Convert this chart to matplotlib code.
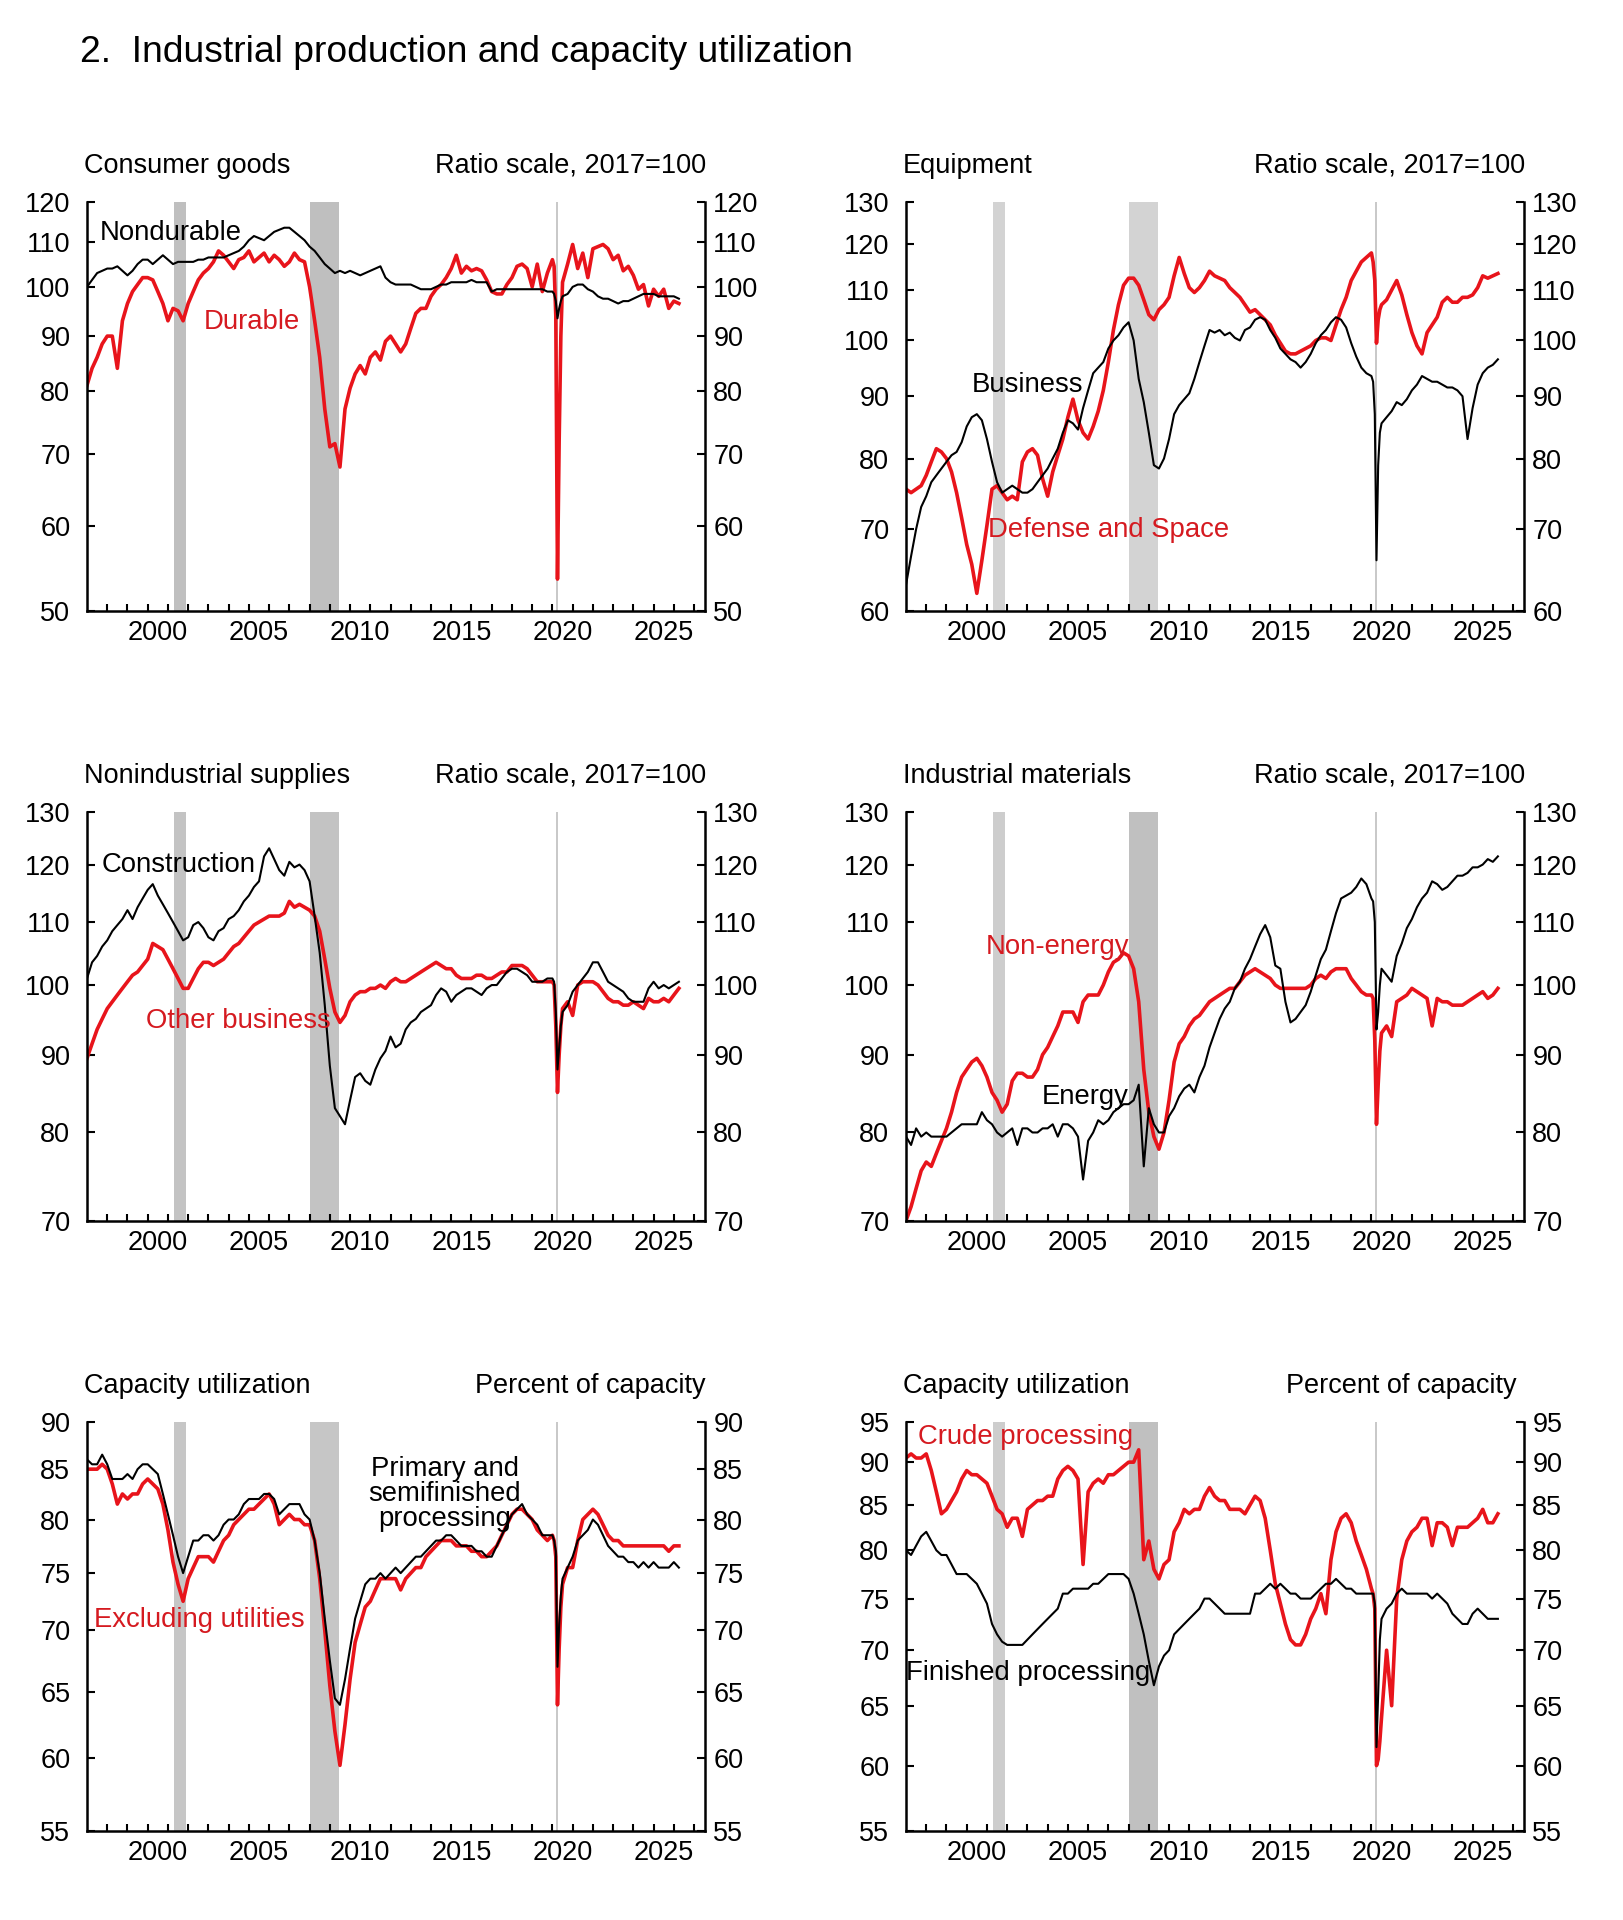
import matplotlib
matplotlib.use('Agg')
import matplotlib.pyplot as plt
from matplotlib.ticker import FixedLocator, NullLocator, FixedFormatter, NullFormatter

plt.rcParams['font.family'] = ['Liberation Sans', 'DejaVu Sans']

# ---------------- data ----------------
# quarterly 1997-2019, monthly Jan-Jul 2020, quarterly 2020Q4-2026Q2
dates = ([1997 + 0.25 * i for i in range(92)]
         + [2020 + m / 12 for m in range(7)]
         + [2020.75 + 0.25 * i for i in range(23)])

nondurable = [100, 101.5, 103, 103.5, 104, 104, 104.5, 103.5, 102.5, 103.5, 105, 106,
              106, 105, 106, 107, 106, 105, 105.5, 105.5, 105.5, 105.5, 106, 106,
              106.5, 106.5, 106.5, 106.5, 107, 107.5, 108, 109, 110.5, 111.5, 111, 110.5,
              111.5, 112.5, 113, 113.5, 113.5, 112.5, 111.5, 110.5, 109, 108, 106.5, 105,
              104, 103, 103.5, 103, 103.5, 103, 102.5, 103, 103.5, 104, 104.5, 102,
              101, 100.5, 100.5, 100.5, 100.5, 100, 99.5, 99.5, 99.5, 100, 100.5, 100.5,
              101, 101, 101, 101, 101.5, 101, 101, 101, 99, 99.5, 99.5, 99.5,
              99.5, 99.5, 99.5, 99.5, 99.5, 99.5, 99.5, 99,
              99, 98.5, 97, 93.5, 95.5, 97, 98, 98.5,
              100, 100.5, 100.5, 99.5, 99, 98, 97.5, 97.5, 97, 96.5, 97, 97,
              97.5, 98, 98.5, 98.5, 98.5, 98, 98, 98, 98, 97.5]
durable = [81, 84, 86, 88.5, 90, 90, 84, 93, 96.5, 99, 100.5, 102,
           102, 101.5, 99, 96.5, 93, 95.5, 95, 93, 96.5, 99, 101.5, 103,
           104, 105.5, 108, 107, 105.5, 104, 106, 106.5, 108, 105.5, 106.5, 107.5,
           105.5, 107, 106, 104.5, 105.5, 107.5, 106, 105.5, 100, 93, 86, 77,
           71, 71.5, 68, 77, 80.5, 83, 84.5, 83, 86, 87, 85.5, 89,
           90, 88.5, 87, 88.5, 91.5, 94.5, 95.5, 95.5, 98, 99.5, 100.5, 102,
           104, 107, 103, 104.5, 103.5, 104, 103.5, 101.5, 99, 98.5, 98.5, 100.5,
           102, 104.5, 105, 104, 100, 105, 99, 103,
           106, 104.5, 94, 53.5, 72, 90, 101, 105,
           109.5, 104, 107.5, 102, 108.5, 109, 109.5, 108.5, 106, 107, 103.5, 104.5,
           102.5, 99.5, 100.5, 96, 99.5, 98, 99.5, 95.5, 97, 96.5]

business = [63, 66.5, 70, 73, 74.5, 76.5, 77.5, 78.5, 79.5, 80.5, 81, 82.5,
            85, 86.5, 87, 86, 83, 79.5, 76.5, 75, 75.5, 76, 75.5, 75,
            75, 75.5, 76.5, 77.5, 78.5, 80, 81.5, 84, 86, 85.5, 84.5, 88,
            91, 94, 95, 96, 98.5, 100, 101, 102.5, 103.5, 100, 93, 89,
            84, 79, 78.5, 80, 83, 87, 88.5, 89.5, 90.5, 93, 96, 99,
            102, 101.5, 102, 101, 101.5, 100.5, 100, 102, 102.5, 104, 104.5, 104,
            102, 100.5, 98.5, 97.5, 96.5, 96, 95, 96, 97.5, 99.5, 101, 102,
            103.5, 104.5, 104, 102.5, 99.5, 97, 95, 94,
            93.5, 92.5, 87, 66, 79, 84, 85.5, 86.5,
            87.5, 89, 88.5, 89.5, 91, 92, 93.5, 93, 92.5, 92.5, 92, 91.5,
            91.5, 91, 90, 83, 88, 92, 94, 95, 95.5, 96.5]
defense = [75.5, 75, 75.5, 76, 77.5, 79.5, 81.5, 81, 80, 78, 75, 71.5,
           68, 65.5, 62, 66, 70.5, 75.5, 76, 75, 74, 74.5, 74, 79.5,
           81, 81.5, 80.5, 77, 74.5, 78, 80.5, 83, 86.5, 89.5, 86, 84,
           83, 85, 87.5, 91, 96, 102, 107, 111, 112.5, 112.5, 111, 108,
           105, 104, 106, 107, 108.5, 113, 117, 113.5, 110.5, 109.5, 110.5, 112,
           114, 113, 112.5, 112, 110.5, 109.5, 108.5, 107, 105.5, 106, 105, 104,
           103, 101, 99.5, 98, 97.5, 97.5, 98, 98.5, 99, 100, 100.5, 100.5,
           100, 103, 106, 108.5, 112, 114, 116, 117,
           118, 116, 112, 99.5, 104, 106, 107, 108,
           110, 112, 109, 105, 101.5, 99, 97.5, 101.5, 103, 104.5, 107.5, 108.5,
           107.5, 107.5, 108.5, 108.5, 109, 110.5, 113, 112.5, 113, 113.5]

construction = [101, 103.5, 104.5, 106, 107, 108.5, 109.5, 110.5, 112, 110.5, 112.5, 114,
                115.5, 116.5, 114.5, 113, 111.5, 110, 108.5, 107, 107.5, 109.5, 110, 109,
                107.5, 107, 108.5, 109, 110.5, 111, 112, 113.5, 114.5, 116, 117, 121.5,
                123, 121, 119, 118, 120.5, 119.5, 120, 119, 117, 111, 105, 97,
                88.5, 83, 82, 81, 84, 87, 87.5, 86.5, 86, 88, 89.5, 90.5,
                92.5, 91, 91.5, 93.5, 94.5, 95, 96, 96.5, 97, 98.5, 99.5, 99,
                97.5, 98.5, 99, 99.5, 99.5, 99, 98.5, 99.5, 100, 100, 101, 102,
                102.5, 102.5, 102, 101.5, 100.5, 100.5, 100.5, 101,
                101, 100.5, 96, 88, 91, 94, 96, 97,
                99, 100, 101, 102, 103.5, 103.5, 102, 100.5, 100, 99.5, 99, 98,
                97.5, 97.5, 97.5, 99.5, 100.5, 99.5, 100, 99.5, 100, 100.5]
other_business = [89.5, 91.5, 93.5, 95, 96.5, 97.5, 98.5, 99.5, 100.5, 101.5, 102, 103,
                  104, 106.5, 106, 105.5, 104, 102.5, 101, 99.5, 99.5, 101, 102.5, 103.5,
                  103.5, 103, 103.5, 104, 105, 106, 106.5, 107.5, 108.5, 109.5, 110, 110.5,
                  111, 111, 111, 111.5, 113.5, 112.5, 113, 112.5, 112, 111, 108.5, 104,
                  99.5, 96, 94.5, 95.5, 97.5, 98.5, 99, 99, 99.5, 99.5, 100, 99.5,
                  100.5, 101, 100.5, 100.5, 101, 101.5, 102, 102.5, 103, 103.5, 103, 102.5,
                  102.5, 101.5, 101, 101, 101, 101.5, 101.5, 101, 101, 101.5, 102, 102,
                  103, 103, 103, 102.5, 101.5, 100.5, 100.5, 100.5,
                  100.5, 100, 94, 85, 90, 94, 96.5, 97.5,
                  95.5, 100, 100.5, 100.5, 100.5, 100, 99, 98, 97.5, 97.5, 97, 97,
                  97.5, 97, 96.5, 98, 97.5, 97.5, 98, 97.5, 98.5, 99.5]

non_energy = [70, 71.5, 73.5, 75.5, 76.5, 76, 77.5, 79, 80.5, 82.5, 85, 87,
              88, 89, 89.5, 88.5, 87, 85, 84, 82.5, 83.5, 86.5, 87.5, 87.5,
              87, 87, 88, 90, 91, 92.5, 94, 96, 96, 96, 94.5, 97.5,
              98.5, 98.5, 98.5, 100, 102, 103.5, 104, 105, 104.5, 102.5, 97.5, 88,
              82.5, 79.5, 78, 80, 84, 89, 91.5, 92.5, 94, 95, 95.5, 96.5,
              97.5, 98, 98.5, 99, 99.5, 99.5, 100.5, 101.5, 102, 102.5, 102, 101.5,
              101, 100, 99.5, 99.5, 99.5, 99.5, 99.5, 99.5, 100, 101, 101.5, 101,
              102, 102.5, 102.5, 102.5, 101, 100, 99, 98.5,
              98.5, 98, 92, 81, 86, 90.5, 93, 94,
              92.5, 97.5, 98, 98.5, 99.5, 99, 98.5, 98, 94, 98, 97.5, 97.5,
              97, 97, 97, 97.5, 98, 98.5, 99, 98, 98.5, 99.5]
energy = [79.5, 78.5, 80.5, 79.5, 80, 79.5, 79.5, 79.5, 79.5, 80, 80.5, 81,
          81, 81, 81, 82.5, 81.5, 81, 80, 79.5, 80, 80.5, 78.5, 80.5,
          80.5, 80, 80, 80.5, 80.5, 81, 79.5, 81, 81, 80.5, 79.5, 74.5,
          79, 80, 81.5, 81, 81.5, 82.5, 83, 83.5, 83.5, 84, 86, 76,
          83, 81, 80, 80, 82, 83, 84.5, 85.5, 86, 85, 87, 88.5,
          91, 93, 95, 96.5, 97.5, 99.5, 100.5, 102.5, 104, 106, 108, 109.5,
          107.5, 103, 102.5, 97.5, 94.5, 95, 96, 97, 99, 101.5, 104, 105.5,
          108.5, 111.5, 114, 114.5, 115, 116, 117.5, 116.5,
          114, 113.5, 110, 93.5, 96, 100, 102.5, 101.5,
          100.5, 104.5, 106.5, 109, 110.5, 112.5, 114, 115, 117, 116.5, 115.5, 116,
          117, 118, 118, 118.5, 119.5, 119.5, 120, 121, 120.5, 121.5]

primary_semi = [86, 85.5, 85.5, 86.5, 85.5, 84, 84, 84, 84.5, 84, 85, 85.5,
                85.5, 85, 84.5, 82.5, 80.5, 78.5, 76.5, 75, 76.5, 78, 78, 78.5,
                78.5, 78, 78.5, 79.5, 80, 80, 80.5, 81.5, 82, 82, 82, 82.5,
                82.5, 82, 80.5, 81, 81.5, 81.5, 81.5, 80.5, 80, 78, 75, 71,
                67.5, 64.5, 64, 66, 68.5, 71, 72.5, 74, 74.5, 74.5, 75, 74.5,
                75, 75.5, 75, 75.5, 76, 76.5, 76.5, 77, 77.5, 78, 78, 78.5,
                78.5, 78, 77.5, 77.5, 77.5, 77, 77, 76.5, 76.5, 77.5, 78.5, 79.5,
                80.5, 81, 81.5, 80.5, 80, 79.5, 78.5, 78.5,
                78.5, 78, 77, 67, 70.5, 73, 74.5, 75.5,
                76.5, 78, 78.5, 79, 80, 79.5, 78.5, 77.5, 77, 76.5, 76.5, 76,
                76, 75.5, 76, 75.5, 76, 75.5, 75.5, 75.5, 76, 75.5]
excl_utilities = [85, 85, 85, 85.5, 85, 83.5, 81.5, 82.5, 82, 82.5, 82.5, 83.5,
                  84, 83.5, 83, 81.5, 79, 76, 74, 72.5, 74.5, 75.5, 76.5, 76.5,
                  76.5, 76, 77, 78, 78.5, 79.5, 80, 80.5, 81, 81, 81.5, 82,
                  82.5, 81.5, 79.5, 80, 80.5, 80, 80, 79.5, 79.5, 78, 74.5, 70,
                  65.5, 62, 59.5, 62.5, 66, 69, 70.5, 72, 72.5, 73.5, 74.5, 74.5,
                  74.5, 74.5, 73.5, 74.5, 75, 75.5, 75.5, 76.5, 77, 77.5, 78, 78,
                  78, 77.5, 77.5, 77.5, 77, 77, 76.5, 76.5, 77, 77.5, 78.5, 79.5,
                  80.5, 81, 81, 80.5, 80, 79, 78.5, 78,
                  78.5, 78, 76.5, 64, 68.5, 72, 74, 75.5,
                  75.5, 78, 80, 80.5, 81, 80.5, 79.5, 78.5, 78, 78, 77.5, 77.5,
                  77.5, 77.5, 77.5, 77.5, 77.5, 77.5, 77.5, 77, 77.5, 77.5]

crude = [90.5, 91, 90.5, 90.5, 91, 89, 86.5, 84, 84.5, 85.5, 86.5, 88,
         89, 88.5, 88.5, 88, 87.5, 86, 84.5, 84, 82.5, 83.5, 83.5, 81.5,
         84.5, 85, 85.5, 85.5, 86, 86, 88, 89, 89.5, 89, 88, 78.5,
         86.5, 87.5, 88, 87.5, 88.5, 88.5, 89, 89.5, 90, 90, 91.5, 79,
         81, 78, 77, 78.5, 79, 82, 83, 84.5, 84, 84.5, 84.5, 86,
         87, 86, 85.5, 85.5, 84.5, 84.5, 84.5, 84, 85, 86, 85.5, 83.5,
         80, 76.5, 74.5, 72.5, 71, 70.5, 70.5, 71.5, 73, 74, 75.5, 73.5,
         79, 82, 83.5, 84, 83, 81, 79.5, 78,
         76, 75.5, 74, 60, 60.5, 62, 64, 70,
         65, 75, 79, 81, 82, 82.5, 83.5, 83.5, 80.5, 83, 83, 82.5,
         80.5, 82.5, 82.5, 82.5, 83, 83.5, 84.5, 83, 83, 84]
finished = [80, 79.5, 80.5, 81.5, 82, 81, 80, 79.5, 79.5, 78.5, 77.5, 77.5,
            77.5, 77, 76.5, 75.5, 74.5, 72.5, 71.5, 70.8, 70.5, 70.5, 70.5, 70.5,
            71, 71.5, 72, 72.5, 73, 73.5, 74, 75.5, 75.5, 76, 76, 76,
            76, 76.5, 76.5, 77, 77.5, 77.5, 77.5, 77.5, 77, 75.5, 73.5, 71.5,
            69, 66.8, 68.5, 69.5, 70, 71.5, 72, 72.5, 73, 73.5, 74, 75,
            75, 74.5, 74, 73.5, 73.5, 73.5, 73.5, 73.5, 73.5, 75.5, 75.5, 76,
            76.5, 76, 76.5, 76, 75.5, 75.5, 75, 75, 75, 75.5, 76, 76.5,
            76.5, 77, 76.5, 76, 76, 75.5, 75.5, 75.5,
            75.5, 75.5, 74.5, 61.5, 66, 71, 73, 74,
            74.5, 75.5, 76, 75.5, 75.5, 75.5, 75.5, 75.5, 75, 75.5, 75, 74.5,
            73.5, 73, 72.5, 72.5, 73.5, 74, 73.5, 73, 73, 73]

recessions = [(2001.28, 2001.87), (2008.04, 2009.43)]
covid_line = 2020.21
label_years = [2000, 2005, 2010, 2015, 2020, 2025]

panel_titles = ['Consumer goods', 'Equipment', 'Nonindustrial supplies',
                'Industrial materials', 'Capacity utilization', 'Capacity utilization']
panel_units = ['Ratio scale, 2017=100'] * 4 + ['Percent of capacity'] * 2
panel_limits = [(50, 120), (60, 130), (70, 130), (70, 130), (55, 90), (55, 95)]
panel_ticks = [[50, 60, 70, 80, 90, 100, 110, 120],
               [60, 70, 80, 90, 100, 110, 120, 130],
               [70, 80, 90, 100, 110, 120, 130],
               [70, 80, 90, 100, 110, 120, 130],
               [55, 60, 65, 70, 75, 80, 85, 90],
               [55, 60, 65, 70, 75, 80, 85, 90, 95]]
panel_black = [nondurable, business, construction, energy, primary_semi, finished]
panel_red = [durable, defense, other_business, non_energy, excl_utilities, crude]

# ---------------- styling / layout ----------------
W, H = 1623, 1920
RED = '#e8141b'
RED_TXT = '#d51a20'
TICK_FS = 19.5
LAB_FS = 19.5
fig = plt.figure(figsize=(W / 100, H / 100), dpi=100)

col_left = [87, 906]
row_top = [201.7, 811.7, 1421.7]
AW, AH = 618, 409
shade_cols = [('#bfbfbf', '#bfbfbf'), ('#d3d3d3', '#d3d3d3'), ('#c3c3c3', '#c3c3c3'),
              ('#cdcdcd', '#c0c0c0'), ('#c6c6c6', '#c6c6c6'), ('#cdcdcd', '#c0c0c0')]
unit_right = [706, 1525, 706, 1525, 706, 1517]

def ftxt(x, y, s, **kw):
    fig.text(x / W, 1 - y / H, s, **kw)

def setup_y(a, lims, ticks):
    a.set_yscale('log')
    a.set_ylim(*lims)
    a.yaxis.set_major_locator(FixedLocator(ticks))
    a.yaxis.set_minor_locator(NullLocator())
    a.yaxis.set_major_formatter(FixedFormatter([str(t) for t in ticks]))
    a.yaxis.set_minor_formatter(NullFormatter())

for i in range(6):
    r, c = divmod(i, 2)
    left, top = col_left[c], row_top[r]
    ax = fig.add_axes([left / W, 1 - (top + AH) / H, AW / W, AH / H])
    ax.set_xlim(1997.0, 2027.54)
    setup_y(ax, panel_limits[i], panel_ticks[i])
    for (a, b), col in zip(recessions, shade_cols[i]):
        ax.axvspan(a, b, color=col, lw=0, zorder=0)
    ax.axvline(covid_line, color='#c4c4c4', lw=1.3, zorder=0.5)
    ax.plot(dates, panel_red[i], color=RED, lw=2.6, zorder=2, solid_joinstyle='round')
    ax.plot(dates, panel_black[i], color='black', lw=1.5, zorder=3, solid_joinstyle='round')

    ax.xaxis.set_major_locator(FixedLocator(list(range(1998, 2028))))
    ax.xaxis.set_major_formatter(NullFormatter())
    ax.xaxis.set_minor_locator(FixedLocator([y + 0.5 for y in label_years]))
    ax.xaxis.set_minor_formatter(FixedFormatter([str(y) for y in label_years]))
    ax.tick_params(axis='x', which='major', direction='in', length=5.2, width=1.5)
    ax.tick_params(axis='x', which='minor', length=0, labelsize=TICK_FS, pad=7)
    ax.tick_params(axis='y', which='major', direction='in', length=6, width=1.5,
                   labelsize=TICK_FS, pad=12)
    for s in ['top', 'right']:
        ax.spines[s].set_visible(False)
    for s in ['left', 'bottom']:
        ax.spines[s].set_linewidth(1.8)

    ax2 = ax.twinx()
    setup_y(ax2, panel_limits[i], panel_ticks[i])
    ax2.tick_params(axis='y', which='major', direction='in', length=6, width=1.5,
                    labelsize=TICK_FS, pad=6)
    for s in ['top', 'left', 'bottom']:
        ax2.spines[s].set_visible(False)
    ax2.spines['right'].set_linewidth(1.8)

    ftxt(left - 3, top - 29, panel_titles[i], ha='left', va='baseline', fontsize=LAB_FS)
    ftxt(unit_right[i], top - 29, panel_units[i], ha='right', va='baseline', fontsize=LAB_FS)

# title
ftxt(80, 61.7, '2.  Industrial production and capacity utilization',
     ha='left', va='baseline', fontsize=26.8)

# series labels
AF = 19.8
ftxt(100, 240, 'Nondurable', fontsize=AF, va='baseline', color='black')
ftxt(204, 329, 'Durable', fontsize=AF, va='baseline', color=RED_TXT)
ftxt(972, 392, 'Business', fontsize=AF, va='baseline', color='black')
ftxt(988, 537, 'Defense and Space', fontsize=AF, va='baseline', color=RED_TXT)
ftxt(102, 872, 'Construction', fontsize=AF, va='baseline', color='black')
ftxt(146.5, 1028, 'Other business', fontsize=AF, va='baseline', color=RED_TXT)
ftxt(986, 954, 'Non-energy', fontsize=AF, va='baseline', color=RED_TXT)
ftxt(1041.5, 1104, 'Energy', fontsize=AF, va='baseline', color='black')
ftxt(445, 1476, 'Primary and', fontsize=AF, va='baseline', ha='center', color='black')
ftxt(445, 1501, 'semifinished', fontsize=AF, va='baseline', ha='center', color='black')
ftxt(445, 1526, 'processing', fontsize=AF, va='baseline', ha='center', color='black')
ftxt(94, 1627, 'Excluding utilities', fontsize=AF, va='baseline', color=RED_TXT)
ftxt(918, 1444, 'Crude processing', fontsize=AF, va='baseline', color=RED_TXT)
ftxt(905.5, 1680.5, 'Finished processing', fontsize=AF, va='baseline', color='black')

fig.savefig('out.png', dpi=100, facecolor='white')
